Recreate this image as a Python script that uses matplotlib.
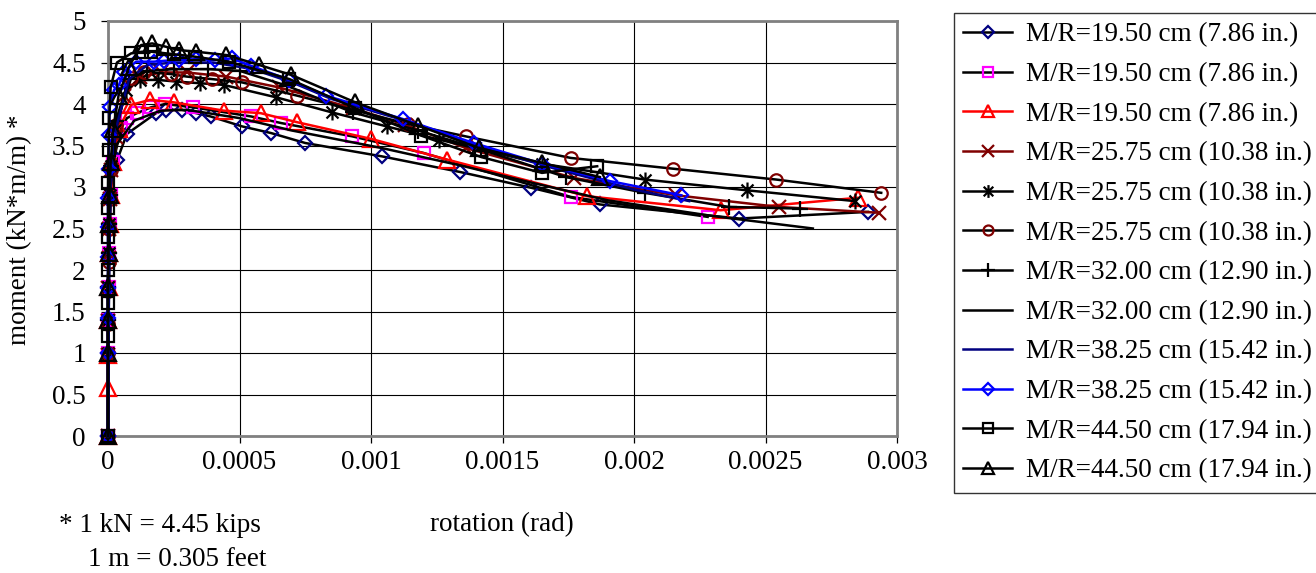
import matplotlib
matplotlib.use("Agg")
import matplotlib.pyplot as plt
from matplotlib.path import Path
from matplotlib.ticker import FixedLocator, FixedFormatter

plt.rcParams['font.family'] = ['Liberation Serif', 'DejaVu Serif']

# ---------------- data ----------------
x_ticks = [0, 0.0005, 0.001, 0.0015, 0.002, 0.0025, 0.003]
x_tick_labels = ['0', '0.0005', '0.001', '0.0015', '0.002', '0.0025', '0.003']
y_ticks = [0, 0.5, 1, 1.5, 2, 2.5, 3, 3.5, 4, 4.5, 5]
y_tick_labels = ['0', '0.5', '1', '1.5', '2', '2.5', '3', '3.5', '4', '4.5', '5']

labels = [
    'M/R=19.50 cm (7.86 in.)', 'M/R=19.50 cm (7.86 in.)', 'M/R=19.50 cm (7.86 in.)',
    'M/R=25.75 cm (10.38 in.)', 'M/R=25.75 cm (10.38 in.)', 'M/R=25.75 cm (10.38 in.)',
    'M/R=32.00 cm (12.90 in.)', 'M/R=32.00 cm (12.90 in.)',
    'M/R=38.25 cm (15.42 in.)', 'M/R=38.25 cm (15.42 in.)',
    'M/R=44.50 cm (17.94 in.)', 'M/R=44.50 cm (17.94 in.)',
]

x1 = [0, 0, 0, 0, 0.000002, 0.000004, 0.000006, 0.00001, 0.000034, 0.000072, 0.000183,
      0.00022, 0.00028, 0.000335, 0.00039, 0.00051, 0.00062, 0.00075, 0.00104, 0.00134,
      0.00161, 0.00187, 0.0024, 0.00289]
y1 = [0, 1.0, 1.4, 1.8, 2.2, 2.55, 2.9, 3.22, 3.32, 3.64, 3.89, 3.93, 3.93, 3.89, 3.85,
      3.73, 3.65, 3.53, 3.37, 3.18, 2.99, 2.79, 2.62, 2.70]

x2 = [0, 0, 0, 0.000002, 0.000004, 0.000006, 0.00001, 0.00002, 0.00005, 0.000072, 0.00011,
      0.000164, 0.000217, 0.000324, 0.000544, 0.000659, 0.000929, 0.0012, 0.00176, 0.00228]
y2 = [0, 1.0, 1.4, 1.8, 2.2, 2.55, 2.9, 3.3, 3.71, 3.83, 3.89, 3.96, 4.0, 3.96, 3.85, 3.77,
      3.61, 3.41, 2.88, 2.64]

x3 = [0, 0, 0, 0, 0.000002, 0.000004, 0.000006, 0.00001, 0.00002, 0.00004, 0.000088, 0.00016,
      0.00025, 0.00044, 0.00058, 0.00072, 0.001, 0.00129, 0.00182, 0.00233, 0.00285]
y3 = [0, 0.58, 0.98, 1.4, 1.8, 2.2, 2.55, 2.9, 3.3, 3.7, 3.99, 4.05, 4.02, 3.92, 3.89, 3.78,
      3.58, 3.33, 2.89, 2.72, 2.87]

x4 = [0, 0, 0, 0, 0.000002, 0.000004, 0.000006, 0.00001, 0.00003, 0.00006, 0.00012, 0.0002,
      0.0003, 0.00045, 0.00065, 0.00093, 0.00113, 0.00136, 0.00177, 0.00216, 0.00255, 0.00293]
y4 = [0, 0.98, 1.38, 1.78, 2.15, 2.5, 2.85, 3.2, 3.6, 4.1, 4.32, 4.38, 4.38, 4.33, 4.2, 3.95,
      3.75, 3.47, 3.11, 2.90, 2.76, 2.69]

x5 = [0, 0, 0, 0, 0.000002, 0.000004, 0.000006, 0.00001, 0.00003, 0.000068, 0.00012, 0.00019,
      0.00026, 0.00035, 0.00044, 0.00064, 0.00085, 0.00106, 0.00126, 0.00165, 0.00204,
      0.00243, 0.00284]
y5 = [0, 1.0, 1.4, 1.8, 2.2, 2.55, 2.9, 3.25, 3.7, 4.17, 4.29, 4.29, 4.27, 4.25, 4.23, 4.08,
      3.90, 3.73, 3.57, 3.28, 3.09, 2.96, 2.83]

x6 = [0, 0, 0, 0, 0.000002, 0.000004, 0.000006, 0.00001, 0.00003, 0.000088, 0.000137, 0.00024,
      0.0003, 0.000396, 0.00051, 0.00072, 0.00114, 0.00136, 0.00176, 0.00215, 0.00254, 0.00294]
y6 = [0, 1.0, 1.35, 1.75, 2.1, 2.5, 2.85, 3.2, 3.75, 4.31, 4.39, 4.36, 4.33, 4.30, 4.26, 4.10,
      3.76, 3.61, 3.35, 3.22, 3.09, 2.93]

x7 = [0, 0, 0, 0, 0.000002, 0.000004, 0.000006, 0.00001, 0.00003, 0.00008, 0.00015, 0.00025,
      0.00038, 0.0005, 0.00068, 0.00093, 0.00118, 0.00142, 0.00174, 0.00204, 0.00236, 0.00263]
y7 = [0, 1.0, 1.4, 1.8, 2.2, 2.55, 2.9, 3.25, 3.8, 4.3, 4.4, 4.42, 4.42, 4.4, 4.22, 3.90,
      3.68, 3.45, 3.12, 2.93, 2.76, 2.74]

x8 = [0, 0.000002, 0.000005, 0.00001, 0.00003, 0.0001, 0.0002, 0.0003, 0.0005, 0.0007,
      0.00104, 0.00134, 0.0016, 0.0019, 0.0023, 0.00268]
y8 = [0, 1.2, 2.2, 3.0, 3.5, 3.8, 3.92, 3.93, 3.83, 3.68, 3.47, 3.26, 3.06, 2.84, 2.65, 2.50]

x9 = [0, 0.000002, 0.000005, 0.00001, 0.00003, 0.00008, 0.00015, 0.00025, 0.0004, 0.00055,
      0.0007, 0.00085, 0.00115, 0.0014, 0.0017, 0.002, 0.00221]
y9 = [0, 1.2, 2.2, 3.0, 3.7, 4.3, 4.47, 4.5, 4.5, 4.42, 4.26, 4.06, 3.78, 3.5, 3.22, 2.97, 2.83]

x10 = [0, 0, 0, 0, 0, 0, 0, 0.000002, 0.000004, 0.000006, 0.000023, 0.000042, 0.00006, 0.000107,
       0.000175, 0.000213, 0.00027, 0.000335, 0.000407, 0.00047, 0.000544, 0.00069, 0.00083,
       0.00112, 0.00139, 0.00165, 0.00191, 0.00218]
y10 = [0, 1.0, 1.42, 1.78, 2.16, 2.52, 2.87, 3.22, 3.63, 3.96, 4.17, 4.23, 4.39, 4.51, 4.51,
       4.52, 4.53, 4.54, 4.53, 4.55, 4.46, 4.29, 4.10, 3.82, 3.53, 3.28, 3.07, 2.90]

x11 = [0, 0, 0, 0, 0, 0, 0, 0.000002, 0.000005, 0.00001, 0.000034, 0.000088, 0.00013, 0.000164,
       0.00025, 0.00033, 0.00046, 0.00069, 0.00094, 0.00119, 0.00142, 0.00165, 0.00186]
y11 = [0, 1.2, 1.6, 2.0, 2.4, 2.75, 3.05, 3.45, 3.83, 4.2, 4.5, 4.61, 4.63, 4.63, 4.6, 4.57,
       4.51, 4.3, 3.95, 3.62, 3.36, 3.17, 3.25]

x12 = [0, 0, 0, 0, 0.000002, 0.000004, 0.000006, 0.00001, 0.00002, 0.00004, 0.00008, 0.000126,
       0.000168, 0.00022, 0.00027, 0.000335, 0.00045, 0.000575, 0.000697, 0.00094, 0.00118,
       0.00141, 0.00165, 0.00187]
y12 = [0, 1.0, 1.4, 1.8, 2.2, 2.55, 2.9, 3.3, 3.7, 4.1, 4.45, 4.71, 4.73, 4.69, 4.65, 4.63,
       4.59, 4.47, 4.35, 4.02, 3.74, 3.47, 3.29, 3.12]

xs = [x1, x2, x3, x4, x5, x6, x7, x8, x9, x10, x11, x12]
ys = [y1, y2, y3, y4, y5, y6, y7, y8, y9, y10, y11, y12]

# ---------------- styles ----------------
star = Path([(0, -1), (0, 1), (-0.75, -0.75), (0.75, 0.75), (-0.75, 0.75), (0.75, -0.75)],
            [Path.MOVETO, Path.LINETO, Path.MOVETO, Path.LINETO, Path.MOVETO, Path.LINETO])

NAVY = '#000080'
MAG = '#FF00FF'
RED = '#FF0000'
MAR = '#800000'
BLUE = '#0000FF'
BLK = '#000000'

styles = [
    dict(color=BLK, marker='D', mec=NAVY, ms=7.4),
    dict(color=BLK, marker='s', mec=MAG, ms=8.2),
    dict(color=RED, marker='^', mec=RED, ms=11.0),
    dict(color=MAR, marker='x', mec=MAR, ms=10.0),
    dict(color=BLK, marker=star, mec=BLK, ms=11.5),
    dict(color=BLK, marker='o', mec=MAR, ms=9.0),
    dict(color=BLK, marker='+', mec=BLK, ms=12.0),
    dict(color=BLK, marker=None, mec=BLK, ms=0),
    dict(color=NAVY, marker=None, mec=NAVY, ms=0),
    dict(color=BLUE, marker='D', mec=BLUE, ms=7.4),
    dict(color=BLK, marker='s', mec=BLK, ms=8.2),
    dict(color=BLK, marker='^', mec=BLK, ms=11.0),
]

W, H = 1316, 573
fig = plt.figure(figsize=(W / 100, H / 100), dpi=100)
L, R, T, B = 108, 897, 21, 436
ax = fig.add_axes([L / W, (H - B) / H, (R - L) / W, (B - T) / H])

FS = 19.5

handles = []
for x, y, st, lab in zip(xs, ys, styles, labels):
    kw = dict(color=st['color'], lw=1.8, label=lab, clip_on=False, zorder=3)
    if st['marker'] is not None:
        kw.update(marker=st['marker'], ms=st['ms'], mec=st['mec'], mfc='none', mew=1.6)
    h, = ax.plot(x, y, **kw)
    handles.append(h)

ax.set_xlim(0, 0.003)
ax.set_ylim(0, 5)
ax.xaxis.set_major_locator(FixedLocator(x_ticks))
ax.xaxis.set_major_formatter(FixedFormatter(x_tick_labels))
ax.yaxis.set_major_locator(FixedLocator(y_ticks))
ax.yaxis.set_major_formatter(FixedFormatter(y_tick_labels))
ax.grid(True, color='black', lw=0.8, zorder=0)
ax.set_axisbelow(True)
for s in ax.spines.values():
    s.set_color('#808080')
    s.set_linewidth(2.0)
ax.tick_params(axis='both', direction='out', length=5, width=0.9, color='black',
               labelsize=FS)
ax.tick_params(axis='x', pad=5)
ax.tick_params(axis='y', pad=11)

fig.text(20 / W, 1 - 230 / H, 'moment (kN*m/m) *', rotation=90, ha='center', va='center',
         fontsize=FS)
fig.text(502 / W, 1 - 525 / H, 'rotation (rad)', ha='center', va='center', fontsize=FS)
fig.text(59 / W, 1 - 526 / H, '* 1 kN = 4.45 kips', ha='left', va='center', fontsize=FS)
fig.text(88 / W, 1 - 559 / H, '1 m = 0.305 feet', ha='left', va='center', fontsize=FS)

leg = fig.legend(handles=handles, labels=labels, loc='upper left',
                 bbox_to_anchor=(954 / W, 1 - 13 / H), borderaxespad=0,
                 fontsize=FS, frameon=True, fancybox=False, shadow=False,
                 handlelength=1.8, handletextpad=0.5, borderpad=0.35,
                 labelspacing=0.54, markerscale=0.8, numpoints=1)
leg.get_frame().set_edgecolor('black')
leg.get_frame().set_linewidth(1.0)

fig.savefig('out.png', dpi=100)
